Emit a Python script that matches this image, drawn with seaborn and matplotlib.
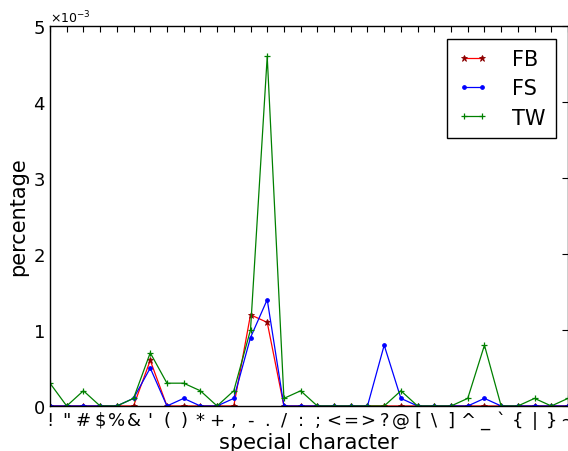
import matplotlib
matplotlib.use("Agg")
import matplotlib.pyplot as plt
import seaborn as sns
import pandas as pd
import numpy as np

chars = ['!', '"', '#', '$', '%', '&', "'", '(', ')', '*', '+', ',', '-', '.', '/',
         ':', ';', '<', '=', '>', '?', '@', '[', '\\', ']', '^', '_', '`', '{', '|', '}', '~']

fb = [0, 0, 0, 0, 0, 0, 0.6, 0, 0, 0, 0, 0, 1.2, 1.1, 0,
      0, 0, 0, 0, 0, 0, 0, 0, 0, 0, 0, 0, 0, 0, 0, 0, 0]
fs = [0, 0, 0, 0, 0, 0.1, 0.5, 0, 0.1, 0, 0, 0.1, 0.9, 1.4, 0,
      0, 0, 0, 0, 0, 0.8, 0.1, 0, 0, 0, 0, 0.1, 0, 0, 0, 0, 0]
tw = [0.3, 0, 0.2, 0, 0, 0.1, 0.7, 0.3, 0.3, 0.2, 0, 0.2, 1.0, 4.6, 0.1,
      0.2, 0, 0, 0, 0, 0, 0.2, 0, 0, 0, 0.1, 0.8, 0, 0, 0.1, 0, 0.1]

scale = 1e-3
x = np.arange(len(chars))

sns.set_style("white")
plt.rcParams['font.family'] = ['DejaVu Sans']
plt.rcParams['text.color'] = 'black'
plt.rcParams['axes.labelcolor'] = 'black'
plt.rcParams['xtick.color'] = 'black'
plt.rcParams['ytick.color'] = 'black'
plt.rcParams['axes.formatter.use_mathtext'] = True

fig = plt.figure(figsize=(5.68, 4.52), dpi=100)
ax = fig.add_axes([0.088, 0.0996, 0.912, 0.8406])

series = [("FB", fb, 'r', '*', 5), ("FS", fs, 'b', '.', 5), ("TW", tw, 'g', '+', 5)]
for name, vals, col, mk, ms in series:
    df = pd.DataFrame({"x": x, "y": np.array(vals) * scale})
    sns.lineplot(data=df, x="x", y="y", ax=ax, color=col, marker=mk, markersize=ms,
                 markeredgecolor=('darkred' if name == 'FB' else col),
                 markerfacecolor=('darkred' if name == 'FB' else col),
                 markeredgewidth=(0.6 if name == 'FB' else 0.9),
                 linewidth=0.9, label=name)

ax.set_xlim(0, 31)
ax.set_ylim(0, 5e-3)
ax.set_xticks(x)
ax.set_xticklabels(chars, fontsize=13)
ax.set_yticks(np.arange(0, 6) * 1e-3)
ax.ticklabel_format(axis='y', style='sci', scilimits=(0, 0), useMathText=True)
ax.yaxis.get_offset_text().set_fontsize(9)
ax.tick_params(axis='y', labelsize=13)
ax.tick_params(direction='in', top=True, right=True, length=4, width=0.8, color='black')
for s in ax.spines.values():
    s.set_visible(True)
    s.set_color('black')
    s.set_linewidth(1.0)

ax.set_xlabel("special character", fontsize=15, labelpad=2)
ax.set_ylabel("percentage", fontsize=15, labelpad=3)

leg = ax.legend(loc='upper right', fontsize=15, numpoints=2, fancybox=False,
                edgecolor='black', framealpha=1, borderpad=0.5, labelspacing=0.45,
                handlelength=1.5, handletextpad=1.1, borderaxespad=0.6)
leg.get_frame().set_linewidth(1.0)
for t in leg.get_texts():
    t.set_color('black')

fig.savefig("out.png", dpi=100)
